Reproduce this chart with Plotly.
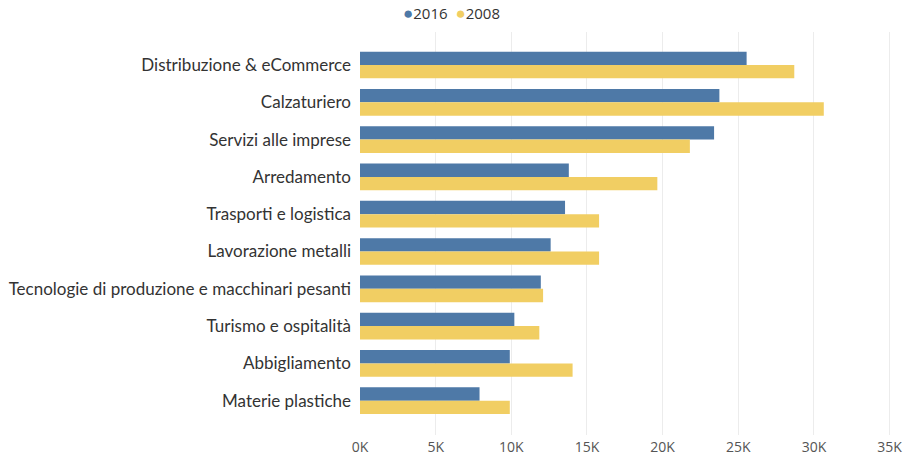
import plotly.graph_objects as go

# Sector names, top to bottom
categories = [
    "Distribuzione & eCommerce",
    "Calzaturiero",
    "Servizi alle imprese",
    "Arredamento",
    "Trasporti e logistica",
    "Lavorazione metalli",
    "Tecnologie di produzione e macchinari pesanti",
    "Turismo e ospitalità",
    "Abbigliamento",
    "Materie plastiche",
]

values_2016 = [25550, 23750, 23400, 13800, 13550, 12600, 11950, 10200, 9900, 7900]
values_2008 = [28700, 30650, 21800, 19650, 15800, 15800, 12100, 11850, 14050, 9900]

x_ticks = [0, 5000, 10000, 15000, 20000, 25000, 30000, 35000]
x_tick_labels = ["0K", "5K", "10K", "15K", "20K", "25K", "30K", "35K"]

BLUE = "#4e79a7"
YELLOW = "#f1ce63"

fig = go.Figure()
fig.add_trace(go.Bar(
    name="2016", y=categories, x=values_2016, orientation="h",
    marker=dict(color=BLUE, line=dict(width=0)), showlegend=False,
))
fig.add_trace(go.Bar(
    name="2008", y=categories, x=values_2008, orientation="h",
    marker=dict(color=YELLOW, line=dict(width=0)), showlegend=False,
))

fig.update_layout(
    width=909, height=460,
    margin=dict(l=360, r=15, t=32, b=25),
    paper_bgcolor="white", plot_bgcolor="white",
    barmode="group", bargap=0.285, bargroupgap=0,
    font=dict(family="Lato", color="#333333"),
    xaxis=dict(
        range=[0, 35290], automargin=False,
        tickvals=x_ticks, ticktext=x_tick_labels,
        showgrid=True, gridcolor="#ececec", gridwidth=1,
        zeroline=False, showline=False,
        tickfont=dict(family="Open Sans", size=14, color="#555555"),
        ticks="", ticklabelstandoff=2,
    ),
    yaxis=dict(
        type="category", categoryorder="array", categoryarray=categories,
        range=[9.92, -0.885], automargin=False,
        showgrid=False, zeroline=False, showline=False,
        tickfont=dict(family="Lato", size=17, color="#333333"),
        ticks="", ticklabelstandoff=8,
    ),
    annotations=[
        dict(
            xref="paper", yref="paper", x=(451 - 360) / 534, y=1.0, yshift=20,
            xanchor="center", yanchor="middle", showarrow=False,
            text=f"<span style='color:{BLUE};font-size:17px'>●</span>2016  "
                 f"<span style='color:{YELLOW};font-size:17px'>●</span>2008",
            font=dict(family="Open Sans", size=15, color="#333333"),
        )
    ],
)

fig.write_html("out.html")
